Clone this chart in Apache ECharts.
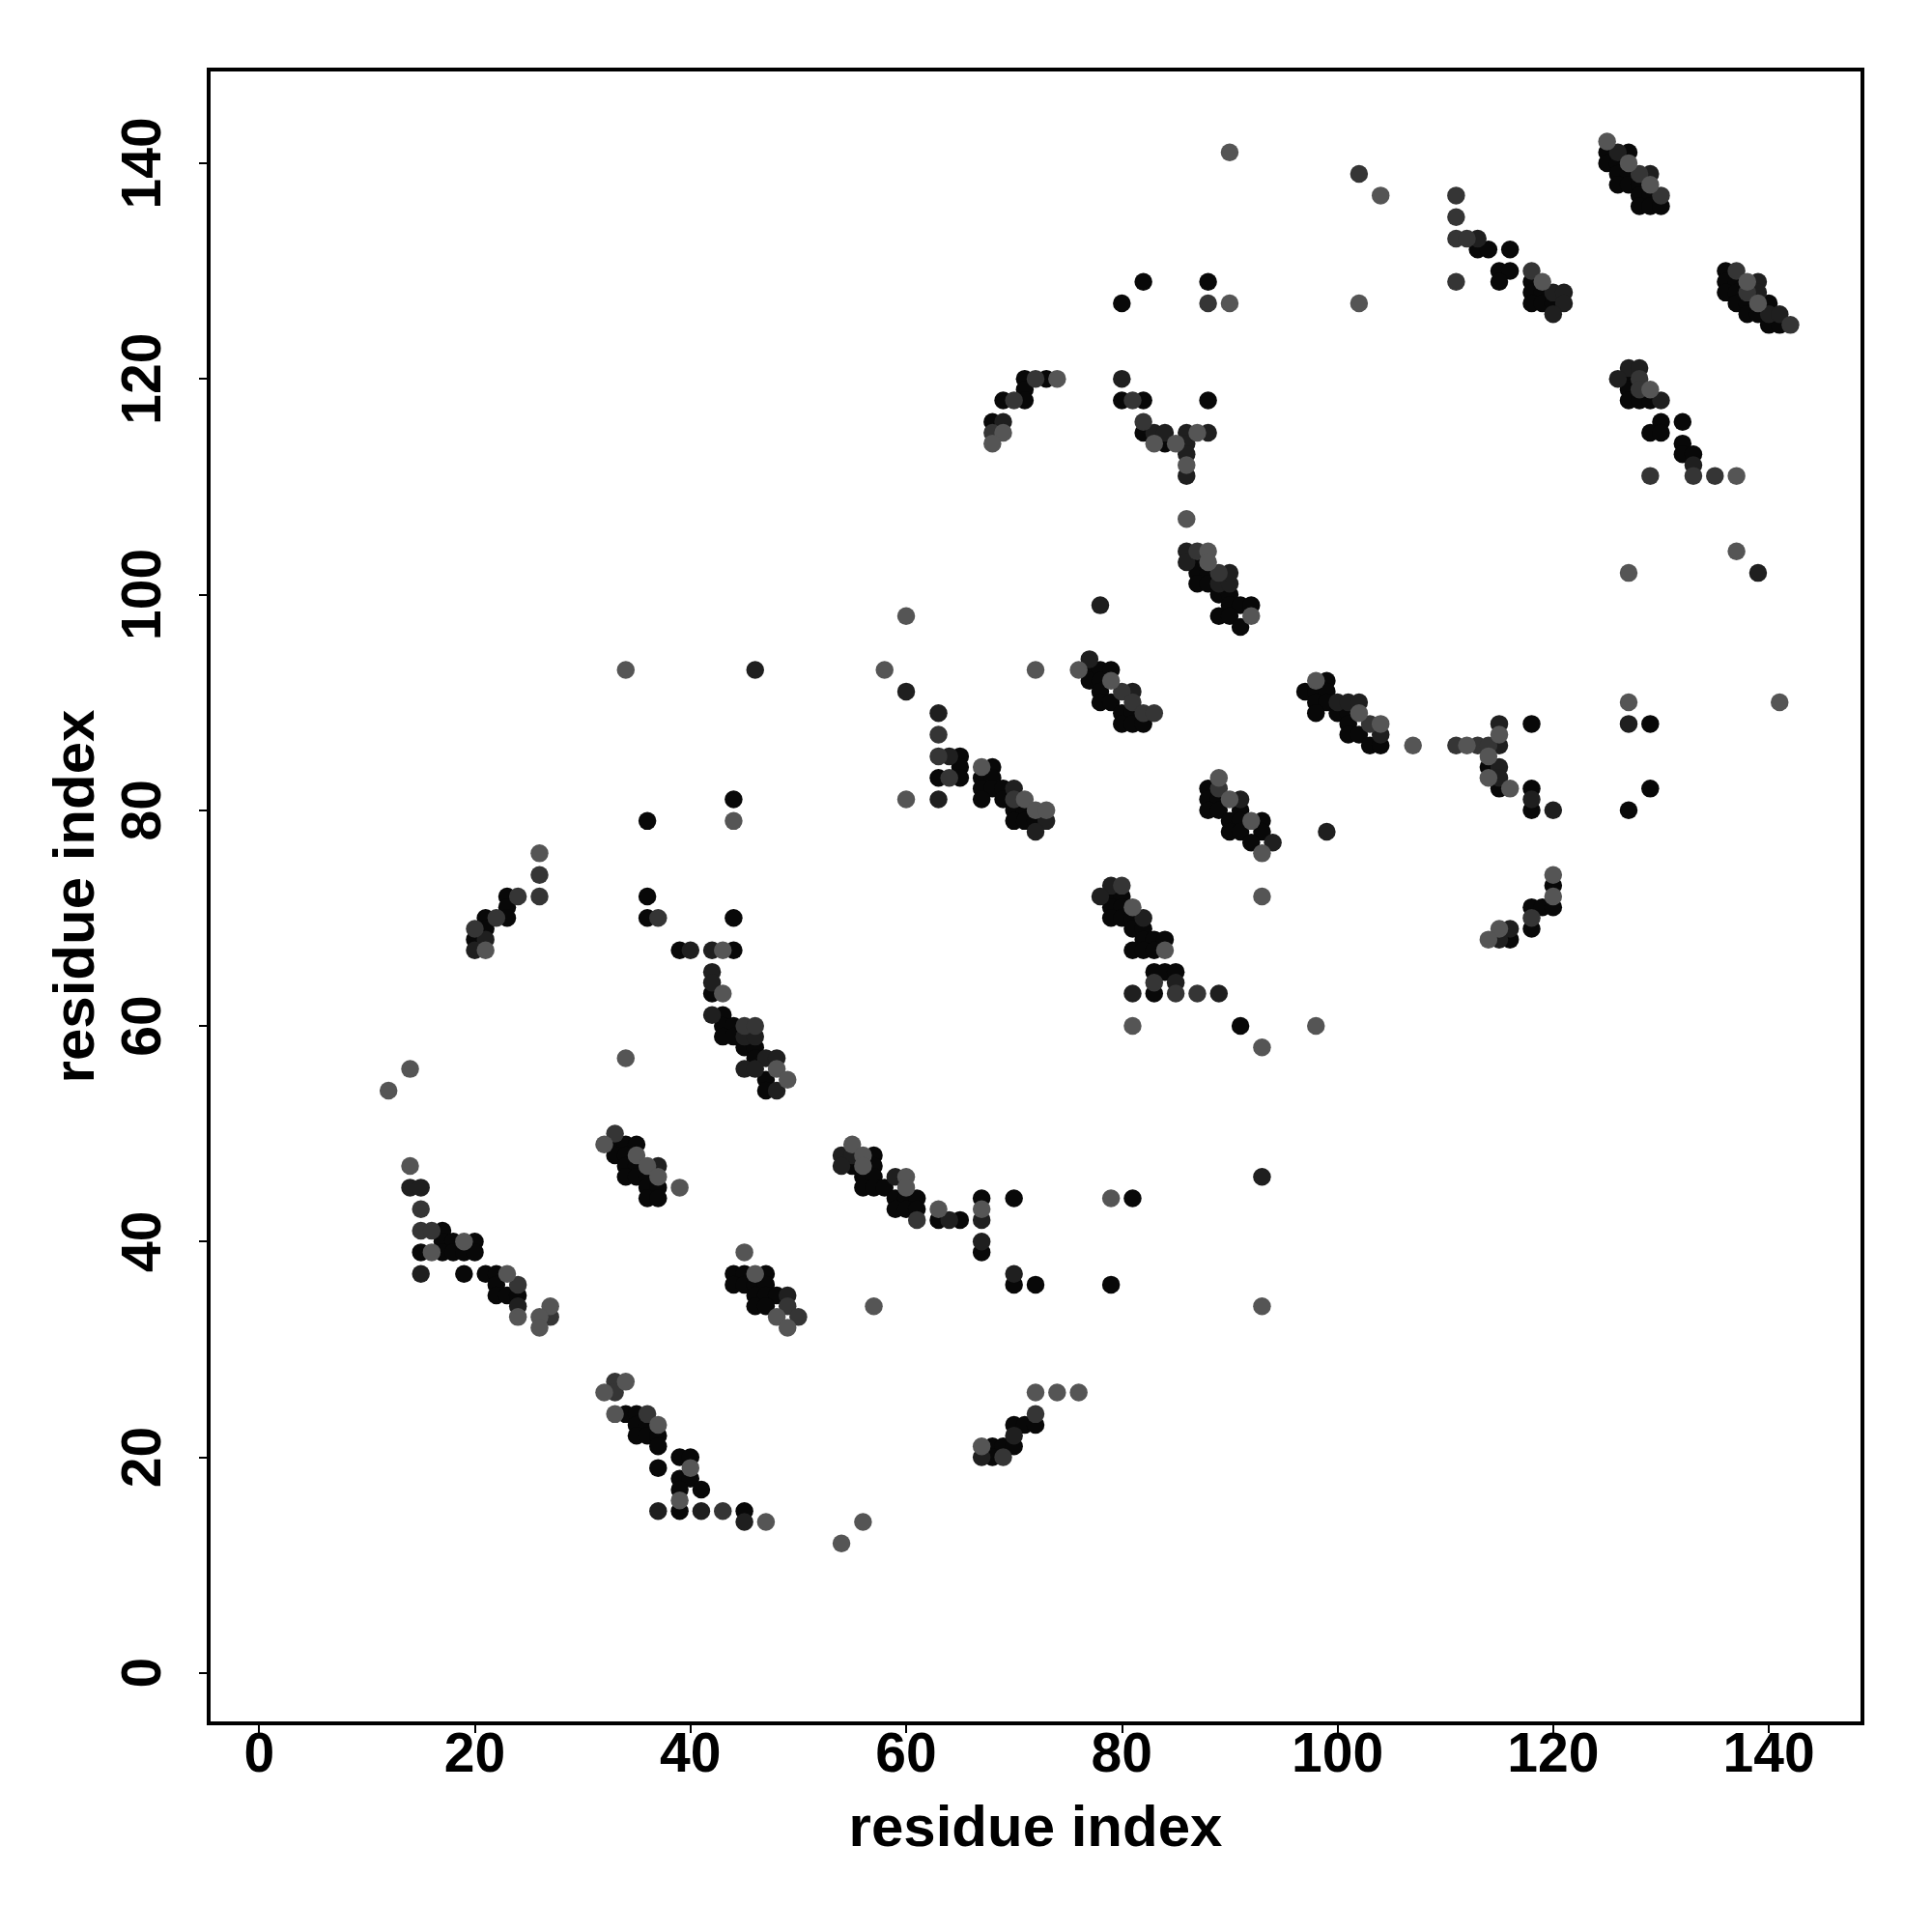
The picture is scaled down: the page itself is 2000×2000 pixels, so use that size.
<!DOCTYPE html>
<html>
<head>
<meta charset="utf-8">
<script src="https://cdn.jsdelivr.net/npm/echarts@6/dist/echarts.min.js"></script>
<style>
html,body{margin:0;padding:0;background:#fff;}
#chart{width:2000px;height:2000px;}
</style>
</head>
<body>
<div id="chart"></div>
<script>
// Tick values (both axes)
const tickValues = [0, 20, 40, 60, 80, 100, 120, 140];
const axisTitleX = 'residue index';
const axisTitleY = 'residue index';

// Contacts (residue i, residue j), grouped by shade of the mark
const blackPts = [
[82,129],[80,127],[88,129],
[71,120],[73,120],[71,119],[69,118],[71,118],[68,116],
[80,118],[82,118],[88,118],[82,115],[84,114],
[87,103],[87,102],[88,102],[87,101],[88,101],[89,100],[90,100],[90,99],[91,99],[92,99],[89,98],[90,98],[91,97],
[113,132],[114,132],[116,132],[115,130],[116,130],[115,129],[118,129],[118,128],[119,128],[118,127],[119,127],[120,127],
[125,141],[127,141],[125,140],[126,140],[126,139],[127,139],[126,138],[127,138],[128,138],[128,137],[129,137],[128,136],[129,136],[130,136],
[136,130],[136,129],[137,129],[136,128],[137,128],[137,127],[138,127],[140,127],[138,126],[139,126],[140,125],[141,125],
[127,120],[127,119],[127,118],[128,118],[129,118],[130,116],[132,116],[129,115],[130,115],[132,114],[132,113],[133,113],
[44,81],[36,79],[23,72],[23,71],[21,70],[23,70],[21,69],[20,68],[36,72],[36,70],[39,67],[44,67],[44,70],[42,63],[43,61],[43,60],[44,60],[43,59],[44,59],[45,58],[46,58],[46,57],[47,55],[47,54],
[65,85],[65,84],[63,83],[65,83],[68,84],[67,83],[68,83],[67,82],[68,82],[69,82],[67,81],[69,81],[70,80],[71,80],[70,79],[71,79],[72,79],
[77,93],[78,93],[79,93],[77,92],[78,92],[78,91],[78,90],[79,90],[80,89],[81,89],[80,88],[81,88],[82,88],
[97,91],[99,92],[98,91],[99,91],[98,90],[99,90],[98,89],[100,89],[101,89],[101,88],[101,87],[102,87],[103,86],[104,86],
[88,82],[88,81],[89,81],[88,80],[89,80],[91,80],[90,79],[91,79],[93,79],[90,78],[91,78],[93,78],[92,77],
[79,72],[80,72],[79,71],[80,71],[79,70],[80,70],[81,70],[81,69],[82,69],[82,68],[83,68],[84,68],[81,67],[82,67],[83,67],[83,65],[84,65],[85,65],[83,63],[91,60],
[129,88],[129,82],[127,80],[118,88],[114,84],[115,82],[118,82],[118,80],[120,73],[118,71],[119,71],[120,71],[118,69],[116,68],
[17,41],[17,40],[18,40],[20,40],[15,39],[17,39],[18,39],[19,39],[20,39],[19,37],[21,37],[22,37],[22,36],[22,35],[23,35],[24,35],
[33,49],[34,49],[35,49],[33,48],[34,48],[34,47],[35,47],[34,46],[35,46],[36,46],[36,45],[37,45],[36,44],[37,44],
[44,37],[45,37],[47,37],[44,36],[45,36],[46,36],[47,36],[46,35],[47,35],[48,35],[46,34],[47,34],
[57,48],[55,47],[57,47],[56,46],[57,46],[56,45],[57,45],[58,45],[59,44],[60,44],[61,44],[59,43],[60,43],[61,43],[63,42],[65,42],
[34,24],[35,24],[35,23],[36,23],[35,22],[36,22],[37,22],[37,21],[39,20],[40,20],[37,19],[39,18],[40,18],[39,17],[41,17],[39,15],[45,15],
[67,44],[67,39],[70,44],[70,36],[72,36],[81,44],[79,36],[70,23],[71,23],[72,23],[68,21],[69,21],[70,21],[68,20]
];
const darkPts = [
[78,99],[69,116],[80,120],[83,115],[84,115],[86,115],[88,115],[86,114],[86,113],[86,111],[86,104],[86,103],[89,101],[90,101],[90,102],
[120,128],[121,128],[121,127],[120,126],[113,133],[126,141],[129,139],[139,129],[139,128],[140,126],[141,126],[127,121],[128,121],[126,120],[130,118],[133,112],[139,102],
[46,93],[21,68],[20,67],[40,67],[42,67],[42,65],[42,64],[42,61],[45,59],[46,59],[47,57],[48,57],[45,56],[46,56],[48,54],
[60,91],[63,89],[64,85],[63,81],[70,82],[73,79],[72,78],[77,94],[81,91],[100,90],[101,90],[102,90],[104,87],[99,78],[91,81],[94,77],[79,73],[78,72],[82,70],[85,64],[81,63],[89,63],
[127,88],[115,88],[115,86],[115,84],[115,83],[118,81],[120,80],[116,69],[115,68],
[14,45],[15,45],[15,37],[24,34],[37,47],[49,35],[54,48],[55,48],[54,47],[59,46],[64,42],[37,15],[41,15],[45,14],
[67,42],[67,40],[70,37],[93,46],[70,22],[67,20]
];
const midPts = [
[88,127],[72,120],[70,118],[68,115],[81,118],[82,116],[87,104],[89,102],
[102,139],[111,137],[111,135],[111,133],[112,133],[118,130],[111,129],[128,139],[130,137],[137,130],[138,128],[142,125],[128,120],[128,119],[129,111],[133,111],[135,111],
[26,74],[26,72],[24,72],[22,70],[20,69],[37,70],[45,60],[46,60],
[63,87],[63,85],[64,83],[70,81],[80,91],[81,90],[82,89],[83,89],[103,88],[89,82],[80,73],[83,64],[85,63],[87,63],
[111,86],[113,86],[114,86],[118,70],
[15,43],[15,41],[16,41],[24,36],[27,33],[33,50],[49,34],[50,33],[61,42],[33,27],[33,26],[36,24],[43,15],
[72,24],[69,20]
];
const grayPts = [
[90,141],[90,127],[102,127],[74,120],[69,115],[68,114],[87,115],[83,114],[85,114],[86,112],[86,107],[88,104],[88,103],[92,98],[60,98],
[104,137],[119,129],[125,142],[127,140],[129,138],[138,129],[139,127],[129,119],[137,111],[137,104],[127,102],
[34,93],[58,93],[44,79],[26,76],[21,67],[43,67],[43,63],[48,56],[49,55],[34,57],[14,56],[12,54],
[72,93],[60,81],[67,84],[71,81],[72,80],[73,80],[76,93],[79,92],[102,89],[104,88],[98,92],[89,83],[90,81],[92,79],[93,76],[93,72],[81,71],[84,67],[81,60],[98,60],[93,58],
[141,90],[127,90],[115,87],[107,86],[112,86],[114,85],[114,83],[116,82],[120,74],[120,72],[115,69],[114,68],
[14,47],[19,40],[16,39],[23,37],[24,33],[27,34],[26,33],[26,32],
[32,49],[35,48],[36,47],[37,46],[39,45],[45,39],[46,37],[48,33],[49,32],
[55,49],[56,48],[56,47],[60,46],[60,45],[63,43],
[34,27],[32,26],[33,24],[37,23],[40,19],[39,16],[47,14],[56,14],[54,12],
[67,43],[79,44],[93,34],[57,34],[72,26],[74,26],[76,26],[67,21]
];

const FONT = '"Liberation Sans", Arial, Helvetica, sans-serif';
const chart = echarts.init(document.getElementById('chart'), null, {renderer: 'canvas'});

function axisCommon(name, isX) {
  return {
    type: 'value',
    min: -4.68,
    max: 148.68,
    name: name,
    nameLocation: 'middle',
    nameGap: isX ? 80 : 106,
    nameTextStyle: {fontFamily: FONT, fontWeight: 'bold', fontSize: 60, color: '#000'},
    axisLine: {show: false, onZero: false},
    splitLine: {show: false},
    axisTick: {show: true, inside: false, length: 10, lineStyle: {color: '#000', width: 2}, customValues: tickValues},
    axisLabel: {
      show: true, customValues: tickValues, margin: isX ? 6 : 37,
      rotate: isX ? 0 : 90,
      fontFamily: FONT, fontWeight: 'bold', fontSize: 57, color: '#000'
    }
  };
}

function mk(data, color) {
  return {
    type: 'scatter', data: data, symbol: 'circle', symbolSize: 18.5,
    itemStyle: {color: color, opacity: 1}, silent: true, animation: false
  };
}

chart.setOption({
  animation: false,
  backgroundColor: '#fff',
  grid: {left: 216, top: 72, width: 1712, height: 1712, show: true, borderColor: '#000', borderWidth: 4, backgroundColor: 'transparent'},
  xAxis: axisCommon(axisTitleX, true),
  yAxis: axisCommon(axisTitleY, false),
  series: [
    mk(blackPts, '#080808'),
    mk(darkPts, '#1f1f1f'),
    mk(midPts, '#353535'),
    mk(grayPts, '#555555')
  ]
});
</script>
</body>
</html>
